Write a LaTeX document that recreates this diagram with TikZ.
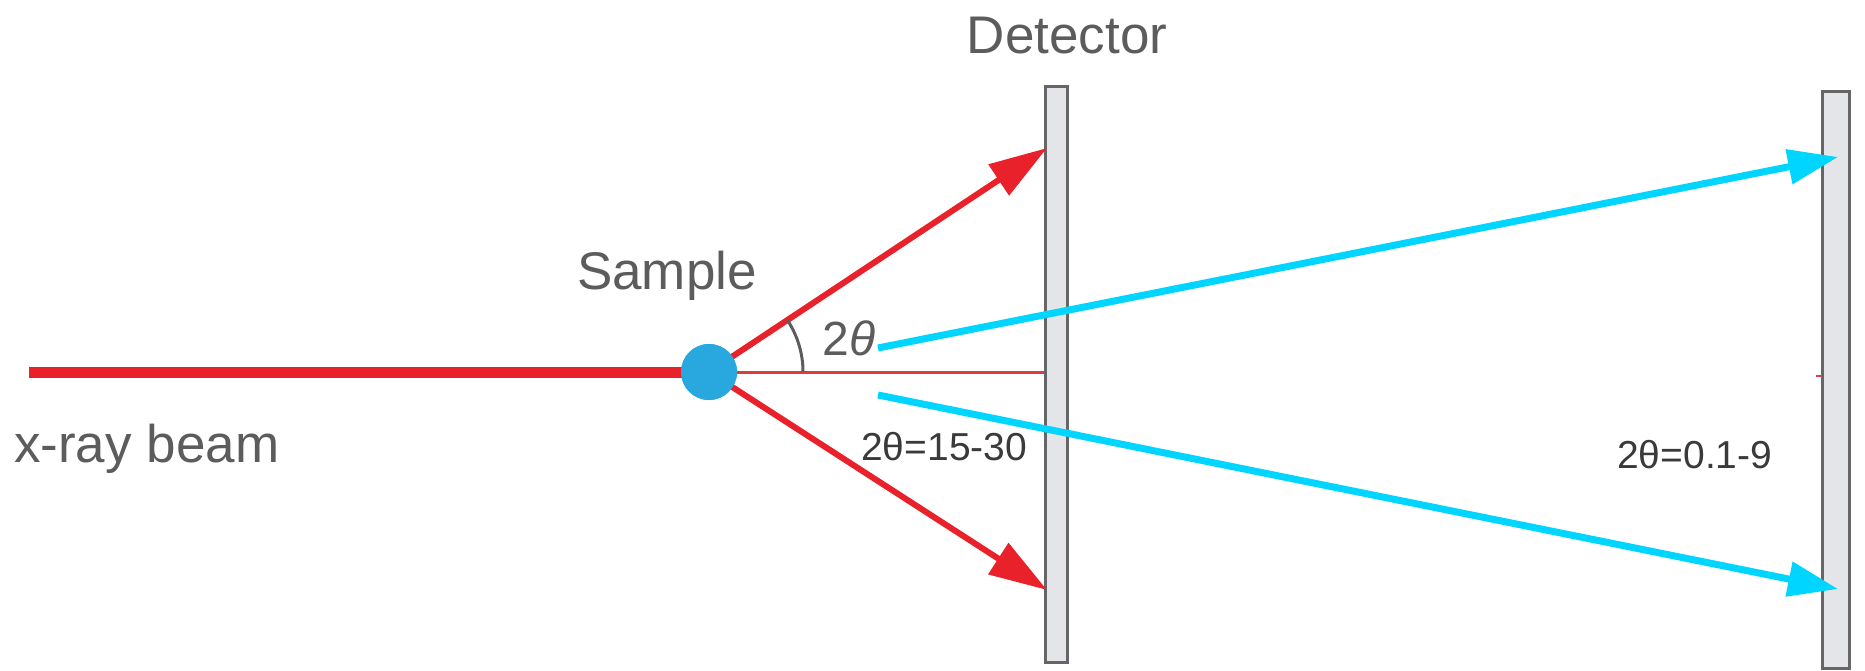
\documentclass[tikz,border=0pt]{standalone}
\usepackage{fontspec}
\setmainfont{Liberation Sans}
\usetikzlibrary{arrows.meta}
\definecolor{beamred}{HTML}{E8212A}
\definecolor{thinred}{HTML}{E03A40}
\definecolor{cyanar}{HTML}{00D5FF}
\definecolor{samp}{HTML}{29A8E0}
\definecolor{labgray}{HTML}{5C5C5C}
\definecolor{txtdark}{HTML}{3A3A3A}
\definecolor{detfill}{HTML}{E4E5E8}
\definecolor{detdraw}{HTML}{666666}
\tikzset{
  detbox/.style={draw=detdraw,fill=detfill,line width=3pt,inner sep=0pt},
  redray/.style={draw=beamred,line width=6pt,-{Triangle[length=58pt,width=36pt]}},
  cyanray/.style={draw=cyanar,line width=7pt,-{Triangle[length=50pt,width=34pt]}},
  biglab/.style={text=labgray,font=\fontsize{53}{60}\selectfont,inner sep=0pt},
  rangelab/.style={text=txtdark,font=\fontsize{39}{45}\selectfont,inner sep=0pt,anchor=base west},
}
\begin{document}
\begin{tikzpicture}[x=1pt,y=-1pt]
\useasboundingbox (0,0) rectangle (1865,671);
% detectors
\node[detbox,minimum width=22pt,minimum height=575pt] (det1) at (1056,374.5) {};
\node[detbox,minimum width=27pt,minimum height=576pt] (det2) at (1835.5,380) {};
% sample
\node[circle,fill=samp,minimum size=56pt,inner sep=0pt] (sample) at (709,372) {};
% coordinates
\coordinate (beamstart) at (29,372);
\coordinate (tipup) at (1047,148);
\coordinate (tipdown) at (1047,590);
\coordinate (c1s) at (878,348);
\coordinate (c1e) at (1838,157);
\coordinate (c2s) at (878,395);
\coordinate (c2e) at (1838,589);
\coordinate (stubA) at (1816,376);
\coordinate (stubB) at (1822,376);
% beam
\draw[beamred,line width=11pt] (beamstart) -- (sample.center);
\draw[thinred,line width=3pt] (sample.center) -- (det1.west |- sample.center);
\draw[redray] (sample.center) -- (tipup);
\draw[redray] (sample.center) -- (tipdown);
\node[circle,fill=samp,minimum size=56pt,inner sep=0pt] at (sample) {};
\draw[thinred,line width=2pt] (stubA) -- (stubB);
% angle arc
\draw[labgray,line width=3pt] (sample.center) ++(94,0) arc[start angle=0,end angle=-33.5,radius=94];
% cyan rays
\draw[cyanray] (c1s) -- (c1e);
\draw[cyanray] (c2s) -- (c2e);
% labels
\node[biglab] (ldet) at (1067,36) {Detector};
\node[biglab] (lsamp) at (667,276) {Sample};
\node[biglab,anchor=base west] (lbeam) at (14,462) {x-ray beam};
\node[text=labgray,font=\fontsize{48}{52}\selectfont,inner sep=0pt] (ltheta) at (849,338) {2\textit{θ}};
\node[rangelab] (lr1) at (861,460) {2θ=15-30};
\node[rangelab] (lr2) at (1617,468) {2θ=0.1-9};
\end{tikzpicture}
\end{document}
